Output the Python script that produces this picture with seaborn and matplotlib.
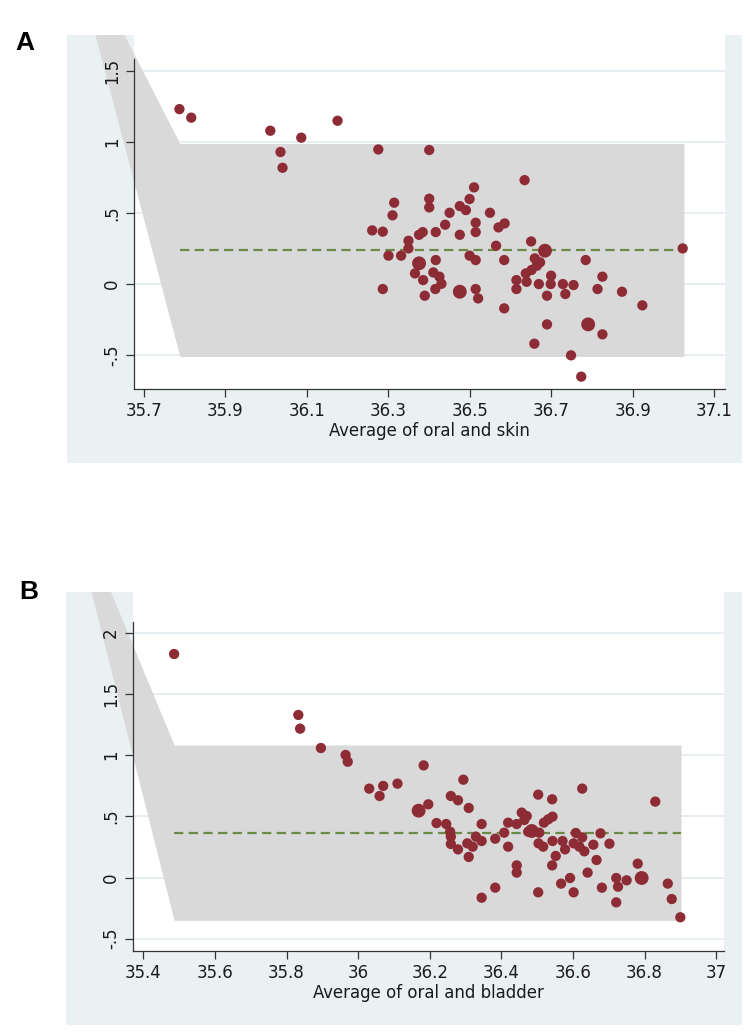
import matplotlib
matplotlib.use("Agg")
import matplotlib.pyplot as plt
from matplotlib.patches import Rectangle
import pandas as pd
import seaborn as sns

sns.set_theme(style="white")
plt.rcParams["font.family"] = ["DejaVu Sans"]
plt.rcParams["font.stretch"] = "condensed"

# ---------------- data ----------------
# Panel A : oral vs skin
a_x = [35.787, 35.816, 36.010, 36.035, 36.040, 36.086, 36.175, 36.275, 36.260,
       36.400, 36.634, 36.510, 36.400, 36.400, 36.314, 36.310, 36.499, 36.475, 36.490,
       36.450, 36.549, 36.514, 36.514, 36.570, 36.585, 36.439, 36.416, 36.475, 36.375,
       36.384, 36.286, 36.349, 36.349, 36.564, 36.650, 36.684, 37.022, 36.300, 36.331,
       36.375, 36.416, 36.499, 36.514, 36.584, 36.659, 36.672, 36.664, 36.651, 36.637,
       36.784, 36.365, 36.410, 36.425, 36.430, 36.385, 36.699, 36.825, 36.614, 36.639,
       36.669, 36.698, 36.728, 36.754, 36.286, 36.415, 36.475, 36.514, 36.520, 36.389,
       36.614, 36.689, 36.734, 36.813, 36.873, 36.923, 36.584, 36.689, 36.790, 36.825,
       36.658, 36.748, 36.773]
a_y = [1.232, 1.172, 1.080, 0.930, 0.819, 1.031, 1.150, 0.948, 0.378,
       0.944, 0.732, 0.681, 0.601, 0.540, 0.573, 0.484, 0.599, 0.549, 0.521,
       0.502, 0.502, 0.432, 0.366, 0.399, 0.427, 0.418, 0.366, 0.347, 0.347,
       0.366, 0.369, 0.305, 0.251, 0.270, 0.300, 0.235, 0.251, 0.200, 0.200,
       0.146, 0.169, 0.200, 0.169, 0.169, 0.181, 0.153, 0.129, 0.099, 0.075,
       0.169, 0.075, 0.082, 0.052, 0.002, 0.028, 0.059, 0.052, 0.028, 0.016,
       0.000, 0.000, 0.000, -0.007, -0.035, -0.035, -0.054, -0.035, -0.101, -0.082,
       -0.035, -0.082, -0.070, -0.035, -0.054, -0.150, -0.171, -0.284, -0.284, -0.354,
       -0.420, -0.502, -0.652]
a_n = [1] * len(a_x)
for i in (35, 39, 65, 77):   # overlapping observations drawn bigger
    a_n[i] = 2

a_mean, a_upper, a_lower = 0.24, 0.99, -0.51
a_band_x = [35.504, 35.788, 37.025]
a_band_hi = [2.581, a_upper, a_upper]
a_band_lo = [2.581, a_lower, a_lower]
a_xticks = [35.7, 35.9, 36.1, 36.3, 36.5, 36.7, 36.9, 37.1]
a_xlabels = ["35.7", "35.9", "36.1", "36.3", "36.5", "36.7", "36.9", "37.1"]
a_yticks = [-0.5, 0, 0.5, 1, 1.5]
a_ylabels = ["-.5", "0", ".5", "1", "1.5"]

# Panel B : oral vs bladder
b_x = [35.486, 35.833, 35.838, 35.896, 35.965, 35.971, 36.031, 36.060, 36.070, 36.110,
       36.183, 36.169, 36.196, 36.294, 36.259, 36.279, 36.309, 36.219, 36.246, 36.257,
       36.259, 36.259, 36.279, 36.305, 36.320, 36.309, 36.345, 36.329, 36.345, 36.383,
       36.408, 36.419, 36.419, 36.345, 36.383, 36.443, 36.457, 36.471, 36.464, 36.475,
       36.485, 36.503, 36.506, 36.504, 36.517, 36.519, 36.531, 36.543, 36.542, 36.543,
       36.552, 36.542, 36.443, 36.443, 36.503, 36.571, 36.578, 36.608, 36.626, 36.602,
       36.618, 36.632, 36.626, 36.657, 36.677, 36.702, 36.666, 36.641, 36.592, 36.567,
       36.602, 36.681, 36.721, 36.726, 36.721, 36.750, 36.781, 36.792, 36.830, 36.865,
       36.876, 36.900]
b_y = [1.826, 1.328, 1.216, 1.058, 1.001, 0.946, 0.726, 0.666, 0.748, 0.767,
       0.916, 0.546, 0.598, 0.799, 0.666, 0.631, 0.568, 0.445, 0.437, 0.374,
       0.334, 0.274, 0.230, 0.279, 0.252, 0.168, 0.437, 0.334, 0.298, 0.317,
       0.366, 0.448, 0.252, -0.165, -0.083, 0.437, 0.530, 0.502, 0.470, 0.374,
       0.380, 0.677, 0.366, 0.279, 0.252, 0.448, 0.475, 0.497, 0.639, 0.298,
       0.176, 0.099, 0.099, 0.040, -0.121, 0.298, 0.230, 0.364, 0.328, 0.279,
       0.252, 0.214, 0.726, 0.268, 0.361, 0.276, 0.143, 0.040, -0.004, -0.050,
       -0.121, -0.083, -0.004, -0.075, -0.203, -0.023, 0.113, -0.004, 0.620, -0.050,
       -0.176, -0.325]
b_n = [1] * len(b_x)
for i in (11, 40, 77):
    b_n[i] = 2

b_mean, b_upper, b_lower = 0.366, 1.083, -0.350
b_band_x = [35.169, 35.486, 36.902]
b_band_hi = [3.318, b_upper, b_upper]
b_band_lo = [3.318, b_lower, b_lower]
b_xticks = [35.4, 35.6, 35.8, 36.0, 36.2, 36.4, 36.6, 36.8, 37.0]
b_xlabels = ["35.4", "35.6", "35.8", "36", "36.2", "36.4", "36.6", "36.8", "37"]
b_yticks = [-0.5, 0, 0.5, 1, 1.5, 2]
b_ylabels = ["-.5", "0", ".5", "1", "1.5", "2"]

# ---------------- style ----------------
BG = "#e9f1f3"
BAND = "#d9d9d9"
GRID = "#e4edf1"
DOT = "#8e2c36"
MEAN = "#6b8a47"
AXC = "#333333"
W, H = 750, 1035

fig = plt.figure(figsize=(W / 100, H / 100), dpi=100)
fig.patch.set_facecolor("white")


def px_box(x0, y0, x1, y1):
    # pixel box (from top-left) -> figure fraction [l, b, w, h]
    return [x0 / W, 1 - y1 / H, (x1 - x0) / W, (y1 - y0) / H]


def panel(letter, letter_xy, bg_px, ax_px, xlim, ylim, ytop,
          x, y, n, band_x, band_lo, band_hi, mean, xticks, xlabels, yticks, ylabels, xtitle):
    l, b, w, h = px_box(*bg_px)
    bg = Rectangle((l, b), w, h, transform=fig.transFigure, facecolor=BG,
                   edgecolor="none", zorder=-10)
    fig.patches.append(bg)

    ax = fig.add_axes(px_box(*ax_px))
    ax.set_facecolor("white")
    ax.set_xlim(*xlim)
    ax.set_ylim(*ylim)

    ax.set_yticks(yticks)
    ax.set_yticklabels(ylabels)
    ax.set_xticks(xticks)
    ax.set_xticklabels(xlabels)
    ax.grid(False)
    ax.set_axisbelow(False)
    # light horizontal grid, under the band; axis and labels stay on top
    for t in yticks:
        ax.axhline(t, color=GRID, lw=1.3, zorder=0.5)

    band = ax.fill_between(band_x, band_lo, band_hi, color=BAND, lw=0, zorder=1)
    band.set_clip_path(bg)

    ax.hlines(mean, band_x[1], band_x[-1], color=MEAN, lw=1.6,
              linestyles=(0, (4.2, 2.4)), zorder=2)

    df = pd.DataFrame({"x": x, "y": y, "n": n})
    sns.scatterplot(data=df, x="x", y="y", size="n", sizes=(55, 100),
                    color=DOT, edgecolor="none", linewidth=0, alpha=1,
                    legend=False, ax=ax, zorder=3)

    for s in ("top", "right"):
        ax.spines[s].set_visible(False)
    for s in ("left", "bottom"):
        ax.spines[s].set_color(AXC)
        ax.spines[s].set_linewidth(0.9)
        ax.spines[s].set_zorder(4)
    ax.spines["left"].set_bounds(ylim[0], ytop)
    ax.xaxis.set_zorder(4)
    ax.yaxis.set_zorder(4)

    ax.tick_params(axis="both", which="major", direction="out", length=5.5,
                   width=0.9, color=AXC, labelsize=13.2, labelcolor="#1a1a1a",
                   left=True, bottom=True)
    ax.tick_params(axis="x", pad=4)
    ax.tick_params(axis="y", pad=4)
    for lab in ax.get_yticklabels():
        lab.set_rotation(90)
        lab.set_va("center")
        lab.set_ha("right")

    ax.set_xlabel(xtitle, fontsize=13.2, color="#1a1a1a", labelpad=1.5)
    ax.set_ylabel("")

    fig.text(letter_xy[0] / W, 1 - letter_xy[1] / H, letter, fontsize=19,
             fontweight="bold", family=["Liberation Sans", "DejaVu Sans"],
             fontstretch="normal", ha="center", va="center", color="black")
    return ax


panel("A", (25, 43), (67, 35, 742, 463), (134, 35, 725, 389),
      (35.6755, 37.1258), (-0.739, 1.754), 1.585,
      a_x, a_y, a_n, a_band_x, a_band_lo, a_band_hi, a_mean,
      a_xticks, a_xlabels, a_yticks, a_ylabels, "Average of oral and skin")

panel("B", (29, 592), (66, 591.7, 741.7, 1025), (133.3, 591.7, 724, 950.7),
      (35.372, 37.022), (-0.598, 2.335), 2.09,
      b_x, b_y, b_n, b_band_x, b_band_lo, b_band_hi, b_mean,
      b_xticks, b_xlabels, b_yticks, b_ylabels, "Average of oral and bladder")

fig.savefig("out.png", dpi=100, facecolor="white")
